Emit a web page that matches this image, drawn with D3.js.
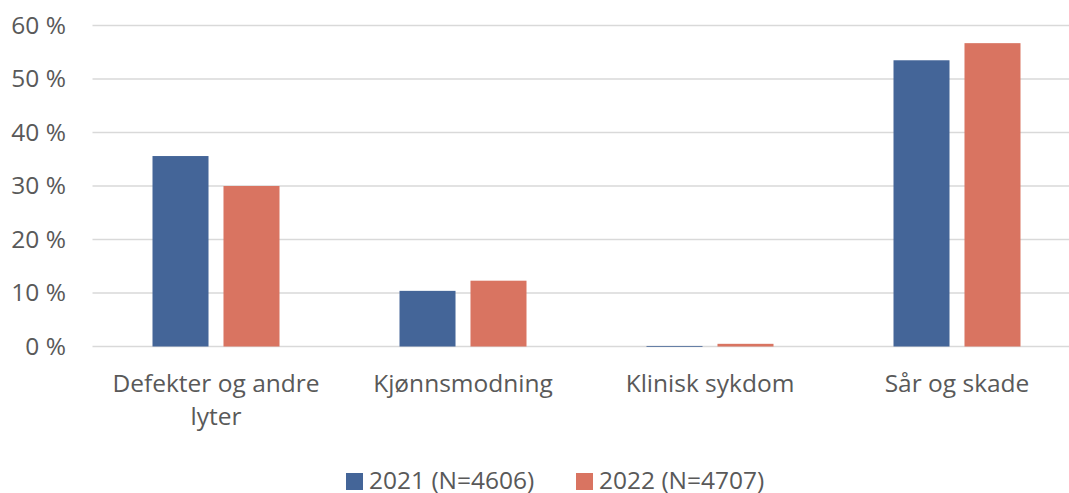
<!DOCTYPE html>
<html lang="no">
<head>
<meta charset="utf-8">
<title>Årsaker</title>
<script src="https://d3js.org/d3.v7.min.js"></script>
<style>
  body{margin:0;background:#fff;font-family:"Open Sans",sans-serif;}
  .axis text{fill:#595959;}
</style>
</head>
<body>
<div id="chart"></div>
<script>
// data
var categories = [["Defekter og andre", "lyter"], ["Kjønnsmodning"], ["Klinisk sykdom"], ["Sår og skade"]]
var seriesNames = ["2021 (N=4606)", "2022 (N=4707)"]
var values2021 = [35.6, 10.4, 0.1, 53.5]
var values2022 = [30.0, 12.3, 0.5, 56.7]
var yTicks = [0, 10, 20, 30, 40, 50, 60]
var colors = ["#446598", "#D97461"]

var w = 1069, h = 493
var plotLeft = 92.5, plotRight = 1080.5, plotTop = 25.5, plotBottom = 346.5
var fontSize = "24.5px"

var svg = d3.select("#chart").append("svg")
    .attr("width", w).attr("height", h)

var x0 = d3.scaleBand().domain(d3.range(categories.length)).range([plotLeft, plotRight])
var x1 = d3.scaleBand().domain([0, 1]).range([60, 247 - 60]).paddingInner(0.211)
var y = d3.scaleLinear().domain([0, 60]).range([plotBottom, plotTop])

// gridlines
svg.append("g").selectAll("line")
    .data(yTicks).enter().append("line")
    .attr("x1", plotLeft).attr("x2", plotRight)
    .attr("y1", function(d){ return y(d) })
    .attr("y2", function(d){ return y(d) })
    .attr("stroke", "#D9D9D9").attr("stroke-width", 1.3)

// y axis labels
var yAxis = d3.axisLeft(y).tickValues(yTicks).tickSize(0).tickPadding(0)
    .tickFormat(function(d){ return d + " %" })
svg.append("g").attr("class", "axis")
    .attr("transform", "translate(66,0)")
    .call(yAxis)
    .call(function(g){ g.select(".domain").remove() })
    .selectAll("text").attr("font-size", fontSize).attr("font-family", "Open Sans")

// bars
var rows = categories.map(function(c, i){ return [values2021[i], values2022[i]] })
var groups = svg.append("g").selectAll("g")
    .data(rows).enter().append("g")
    .attr("transform", function(d, i){ return "translate(" + x0(i) + ",0)" })
groups.selectAll("rect")
    .data(function(d){ return d })
    .enter().append("rect")
    .attr("x", function(d, j){ return x1(j) })
    .attr("width", x1.bandwidth())
    .attr("y", function(d){ return y(d) })
    .attr("height", function(d){ return Math.max(0.8, plotBottom - y(d)) })
    .attr("fill", function(d, j){ return colors[j] })

// x labels
var xl = svg.append("g").attr("class", "axis")
xl.selectAll("text")
    .data(categories).enter().append("text")
    .attr("x", function(d, i){ return x0(i) + x0.bandwidth() / 2 })
    .attr("y", 392)
    .attr("text-anchor", "middle")
    .attr("font-size", fontSize)
    .attr("fill", "#595959")
    .each(function(d){
        var t = d3.select(this)
        d.forEach(function(line, k){
            t.append("tspan").attr("x", t.attr("x")).attr("dy", k ? 33 : 0).text(line)
        })
    })

// legend
var legendX = [346, 576]
var lg = svg.append("g").selectAll("g")
    .data(seriesNames).enter().append("g")
    .attr("transform", function(d, i){ return "translate(" + legendX[i] + ",0)" })
lg.append("rect").attr("x", 0).attr("y", 473).attr("width", 17).attr("height", 17)
    .attr("fill", function(d, i){ return colors[i] })
lg.append("text").attr("x", 23).attr("y", 489)
    .attr("font-size", fontSize).attr("fill", "#595959")
    .text(function(d){ return d })
</script>
</body>
</html>
